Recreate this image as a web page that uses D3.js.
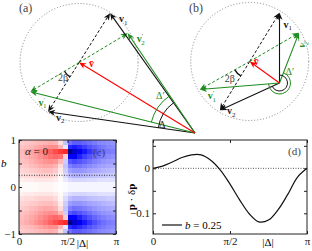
<!DOCTYPE html>
<html>
<head>
<meta charset="utf-8">
<script src="https://cdn.jsdelivr.net/npm/d3@7"></script>
<style>
  body { margin: 0; background: #fff; }
  svg { display: block; font-family: "Liberation Serif", "DejaVu Serif", serif; }
</style>
</head>
<body>
<svg id="fig" width="312" height="251"></svg>
<script>
// vectors v1, v2, v1', v2' in units of the circle radius (y up), origin at 0
const vecNamesA = ['v1', 'v2', 'v1p', 'v2p'];
const vecsA = [[-1.44, 2.03], [-2.49, 0.36], [-2.79, 0.70], [-1.14, 1.69]];
const vecsB = [[0, 1.19], [-1.01, -0.46], [-1.35, -0.11], [0.33, 0.85]];

// heat map (c): columns are |Delta|/pi, rows are b (top to bottom)
const heatDelta = d3.range(20).map(i => (i + 0.5) / 20);
const heatB = [0.95, 0.85, 0.75, 0.65, 0.55, 0.45, 0.35, 0.25, 0.15, 0.05,
  -0.05, -0.15, -0.25, -0.35, -0.45, -0.55, -0.65, -0.75, -0.85, -0.95];
const heatValues = [
  [.10, .11, .12, .13, .14, .15, .16, .15, .06, -.12, -.28, -.32, -.32, -.30, -.28, -.26, -.24, -.23, -.22, -.21],
  [.12, .13, .14, .16, .18, .20, .22, .22, .15, -.05, -.42, -.45, -.42, -.38, -.34, -.31, -.28, -.26, -.24, -.23],
  [.14, .16, .18, .21, .24, .27, .31, .35, .39, .42, -.85, -.66, -.54, -.46, -.40, -.35, -.31, -.28, -.26, -.25],
  [.13, .15, .17, .19, .22, .25, .28, .30, .28, .10, -.52, -.50, -.44, -.38, -.34, -.30, -.27, -.25, -.23, -.22],
  [.12, .13, .15, .17, .19, .21, .22, .21, .14, -.10, -.33, -.36, -.34, -.31, -.28, -.25, -.23, -.21, -.20, -.19],
  [.10, .11, .13, .14, .16, .17, .17, .15, .07, -.12, -.25, -.28, -.27, -.25, -.23, -.21, -.19, -.18, -.17, -.16],
  [.08, .09, .10, .11, .12, .13, .13, .11, .04, -.10, -.19, -.21, -.21, -.20, -.18, -.17, -.16, -.15, -.14, -.13],
  [.06, .07, .07, .08, .09, .09, .09, .07, .02, -.07, -.13, -.15, -.15, -.14, -.13, -.12, -.11, -.11, -.10, -.10],
  [.03, .04, .04, .05, .05, .05, .05, .04, .01, -.04, -.07, -.08, -.08, -.08, -.07, -.07, -.06, -.06, -.06, -.06],
  [.01, .01, .01, .01, .02, .02, .02, .01, .00, -.01, -.02, -.02, -.02, -.02, -.02, -.02, -.02, -.02, -.02, -.02],
  [.01, .01, .01, .01, .02, .02, .02, .01, .00, -.01, -.02, -.02, -.02, -.02, -.02, -.02, -.02, -.02, -.02, -.02],
  [.03, .04, .04, .05, .05, .05, .05, .04, .01, -.04, -.07, -.08, -.08, -.08, -.07, -.07, -.06, -.06, -.06, -.06],
  [.06, .07, .07, .08, .09, .09, .09, .07, .02, -.07, -.13, -.15, -.15, -.14, -.13, -.12, -.11, -.11, -.10, -.10],
  [.08, .09, .10, .11, .12, .13, .13, .11, .04, -.10, -.19, -.21, -.21, -.20, -.18, -.17, -.16, -.15, -.14, -.13],
  [.10, .11, .13, .14, .16, .17, .17, .15, .07, -.12, -.25, -.28, -.27, -.25, -.23, -.21, -.19, -.18, -.17, -.16],
  [.12, .13, .15, .17, .19, .21, .22, .21, .14, -.10, -.33, -.36, -.34, -.31, -.28, -.25, -.23, -.21, -.20, -.19],
  [.13, .15, .17, .19, .22, .25, .28, .30, .28, .10, -.52, -.50, -.44, -.38, -.34, -.30, -.27, -.25, -.23, -.22],
  [.14, .16, .18, .21, .24, .27, .31, .35, .39, .42, -.85, -.66, -.54, -.46, -.40, -.35, -.31, -.28, -.26, -.25],
  [.12, .13, .14, .16, .18, .20, .22, .22, .15, -.05, -.42, -.45, -.42, -.38, -.34, -.31, -.28, -.26, -.24, -.23],
  [.10, .11, .12, .13, .14, .15, .16, .15, .06, -.12, -.28, -.32, -.32, -.30, -.28, -.26, -.24, -.23, -.22, -.21]
];
const bCut = 0.25;

// curve (d): p . dp against |Delta| (as a fraction of pi), b = 0.25
const curveDelta = [0, 0.0625, 0.125, 0.1875, 0.25, 0.3125, 0.375, 0.4375, 0.5,
  0.5625, 0.625, 0.6875, 0.75, 0.8125, 0.875, 0.9375, 1];
const curvePdp = [0, 0.005, 0.014, 0.024, 0.030, 0.030, 0.018, -0.004, -0.035,
  -0.070, -0.101, -0.119, -0.115, -0.092, -0.058, -0.020, 0];

const piTicks = [0, Math.PI / 2, Math.PI];
const piLabels = ['0', 'π/2', 'π'];

const svg = d3.select('#fig');
const defs = svg.append('defs');
const col = { k: '#111', g: '#1e8c1e', r: '#ff0000' };
const R = 59;

Object.entries(col).forEach(([k, c]) => {
  defs.append('marker')
    .attr('id', 'ah-' + k)
    .attr('viewBox', '-8 -4 9 8')
    .attr('refX', 0).attr('refY', 0)
    .attr('markerWidth', 9).attr('markerHeight', 8)
    .attr('markerUnits', 'userSpaceOnUse')
    .attr('orient', 'auto')
    .append('path').attr('d', 'M0,0L-7,-3L-5,0L-7,3Z').attr('fill', c);
});

function arcPath(cx, cy, r, a, b) {
  const lo = Math.min(a, b), hi = Math.max(a, b);
  const p = d3.path();
  p.arc(cx, cy, r, -lo, -hi, true);
  return p.toString();
}

function vecLabel(g, x, y, color, sub, prime, bar) {
  const t = g.append('text').attr('x', x).attr('y', y).attr('fill', color).attr('font-size', 10);
  t.append('tspan').attr('font-weight', 'bold').text(bar ? 'v\u0304' : 'v');
  if (prime) t.append('tspan').attr('font-size', 7).attr('dy', -4).text('′');
  if (sub) t.append('tspan').attr('font-size', 7).attr('dx', prime ? -2 : 0).attr('dy', prime ? 6.5 : 2.5).text(sub);
  return t;
}

function vectorPanel(vecs, origin, o) {
  const x = d3.scaleLinear().domain([0, 1]).range([origin[0], origin[0] + R]);
  const y = d3.scaleLinear().domain([0, 1]).range([origin[1], origin[1] - R]);
  const [v1, v2, v1p, v2p] = vecs;
  const vb = [(v1[0] + v2[0]) / 2, (v1[1] + v2[1]) / 2];
  const g = svg.append('g');

  g.append('circle')
    .attr('cx', x(vb[0])).attr('cy', y(vb[1])).attr('r', R)
    .attr('fill', 'none').attr('stroke', '#777').attr('stroke-width', 0.9)
    .attr('stroke-dasharray', '1,2');

  const arrow = (from, to, c, dashed) => {
    const x0 = x(from[0]), y0 = y(from[1]), x1 = x(to[0]), y1 = y(to[1]);
    const L = Math.hypot(x1 - x0, y1 - y0);
    const s = (L - 3) / L;
    g.append('line')
      .attr('x1', x0).attr('y1', y0)
      .attr('x2', x0 + (x1 - x0) * s).attr('y2', y0 + (y1 - y0) * s)
      .attr('stroke', col[c]).attr('stroke-width', dashed ? 1 : 1.1)
      .attr('stroke-dasharray', dashed ? '3,2' : null);
    g.append('line')
      .attr('x1', x0 + (x1 - x0) * s).attr('y1', y0 + (y1 - y0) * s)
      .attr('x2', x1).attr('y2', y1)
      .attr('stroke', 'none')
      .attr('marker-end', `url(#ah-${c})`);
  };

  arrow(vb, v1, 'k', true);
  arrow(vb, v2, 'k', true);
  arrow(vb, v1p, 'g', true);
  arrow(vb, v2p, 'g', true);
  arrow([0, 0], v1, 'k');
  arrow([0, 0], v2, 'k');
  arrow([0, 0], v1p, 'g');
  arrow([0, 0], v2p, 'g');
  arrow([0, 0], vb, 'r');

  const ang = v => Math.atan2(v[1], v[0]);
  const rel = v => [v[0] - vb[0], v[1] - vb[1]];
  g.append('path')
    .attr('d', arcPath(x(0), y(0), o.rk, ang(v1), ang(v2)))
    .attr('fill', 'none').attr('stroke', col.k).attr('stroke-width', 1);
  g.append('path')
    .attr('d', arcPath(x(0), y(0), o.rg, ang(v1p), ang(v2p)))
    .attr('fill', 'none').attr('stroke', col.g).attr('stroke-width', 1);
  g.append('path')
    .attr('d', arcPath(x(vb[0]), y(vb[1]), 17, ang(rel(v2)), ang(rel(v1p))))
    .attr('fill', 'none').attr('stroke', col.k).attr('stroke-width', 1.4);

  // labels
  vecLabel(g, x(v1[0]) + o.l1[0], y(v1[1]) + o.l1[1], '#222', '1');
  vecLabel(g, x(v2[0]) + o.l2[0], y(v2[1]) + o.l2[1], '#222', '2');
  vecLabel(g, x(v1p[0]) + o.l1p[0], y(v1p[1]) + o.l1p[1], col.g, '1', true);
  const l2p = vecLabel(g, x(v2p[0]) + o.l2p[0], y(v2p[1]) + o.l2p[1], col.g, '2', true);
  if (o.rot2p) l2p.attr('transform', `rotate(${o.rot2p},${x(v2p[0]) + o.l2p[0]},${y(v2p[1]) + o.l2p[1]})`);
  vecLabel(g, x(vb[0]) + o.lb[0], y(vb[1]) + o.lb[1], col.r, null, false, true);

  g.append('text')
    .attr('x', x(vb[0]) + o.beta[0]).attr('y', y(vb[1]) + o.beta[1])
    .attr('font-size', 10).attr('fill', '#444').text('2β');
  g.append('text')
    .attr('x', x(0) + o.dg[0]).attr('y', y(0) + o.dg[1])
    .attr('font-size', 10).attr('fill', col.g).text('Δ′');
  if (o.dk) {
    g.append('text')
      .attr('x', x(0) + o.dk[0]).attr('y', y(0) + o.dk[1])
      .attr('font-size', 10).attr('fill', '#222').text('Δ');
  }
  g.append('text').attr('x', o.tag[0]).attr('y', o.tag[1])
    .attr('font-size', 12).attr('fill', '#444').text(o.tagText);
}

vectorPanel(vecsA, [195, 133], {
  rk: 37, rg: 45,
  l1: [9, 9], l2: [8, 9], l1p: [8, 14], l2p: [9, 9], lb: [10, 5],
  beta: [-21, 19], dg: [-39, -34], dk: [-36, -5],
  tag: [19, 12], tagText: '(a)'
});
vectorPanel(vecsB, [279.5, 83], {
  rk: 8, rg: 11,
  l1: [4, 15], l2: [7, 4], l1p: [8, 10], l2p: [5, 16], rot2p: -70, lb: [4, 4],
  beta: [-25, 21], dg: [6, -8], dk: null,
  tag: [189, 12], tagText: '(b)'
});

// ---------- panel (c): heat map ----------
const cX = d3.scaleLinear().domain([0, Math.PI]).range([19, 116]);
const cY = d3.scaleLinear().domain([-1, 1]).range([234, 140]);
const colBand = d3.scaleBand().domain(d3.range(heatDelta.length)).range([19, 116]);
const rowBand = d3.scaleBand().domain(d3.range(heatB.length)).range([140, 234]);
const heatColor = d3.scaleLinear()
  .domain([-1, -0.5, 0, 0.5, 1])
  .range(['#00004c', '#0000ff', '#ffffff', '#ff0000', '#800000'])
  .clamp(true);

const gc = svg.append('g');
heatValues.forEach((row, ri) => {
  gc.selectAll(null).data(row).join('rect')
    .attr('x', (d, ci) => colBand(ci))
    .attr('y', rowBand(ri))
    .attr('width', colBand.bandwidth() + 0.4)
    .attr('height', rowBand.bandwidth() + 0.4)
    .attr('fill', d => heatColor(d))
    .attr('shape-rendering', 'crispEdges');
});

gc.append('line')
  .attr('x1', cX(0)).attr('x2', cX(Math.PI))
  .attr('y1', cY(bCut)).attr('y2', cY(bCut))
  .attr('stroke', '#222').attr('stroke-width', 0.9).attr('stroke-dasharray', '1,1.5');

function frame(g, x, y, yTicks, yFmt, xTicks, xFmt) {
  const r = x.range(), d = y.range();
  const axes = [
    [d3.axisBottom(x).tickValues(xTicks).tickFormat(xFmt), `translate(0,${d[0]})`],
    [d3.axisTop(x).tickValues(xTicks).tickFormat(''), `translate(0,${d[1]})`],
    [d3.axisLeft(y).tickValues(yTicks).tickFormat(yFmt), `translate(${r[0]},0)`],
    [d3.axisRight(y).tickValues(yTicks).tickFormat(''), `translate(${r[1]},0)`]
  ];
  axes.forEach(([ax, tr]) => {
    const a = g.append('g').attr('transform', tr)
      .call(ax.tickSize(-3).tickPadding(3));
    a.select('.domain').remove();
    a.selectAll('line').attr('stroke', '#222');
    a.selectAll('text').attr('font-size', 11).attr('fill', '#222')
      .attr('font-family', '"Liberation Serif", serif');
  });
  g.append('rect')
    .attr('x', r[0]).attr('y', d[1])
    .attr('width', r[1] - r[0]).attr('height', d[0] - d[1])
    .attr('fill', 'none').attr('stroke', '#222').attr('stroke-width', 1);
}

frame(gc, cX, cY, [-1, -0.5, 0, 0.5, 1],
  v => (v === 1 ? '1' : v === 0 ? '0' : v === -1 ? '−1' : ''),
  piTicks, (v, i) => piLabels[i]);

gc.append('text').attr('x', 25).attr('y', 155).attr('font-size', 11).attr('fill', '#222')
  .html('<tspan font-style="italic">α</tspan> = 0');
gc.append('text').attr('x', 93).attr('y', 156).attr('font-size', 11).attr('fill', '#444').text('(c)');
gc.append('text').attr('x', 1).attr('y', 167).attr('font-size', 11).attr('font-style', 'italic').text('b');
gc.append('text').attr('x', 82.5).attr('y', 247).attr('text-anchor', 'middle').attr('font-size', 11).text('|Δ|');

// ---------- panel (d): p . dp ----------
const dX = d3.scaleLinear().domain([0, Math.PI]).range([153, 307]);
const dY = d3.scaleLinear().domain([-0.146, 0.063]).range([234, 140]);
const gd = svg.append('g');

gd.append('line')
  .attr('x1', dX(0)).attr('x2', dX(Math.PI))
  .attr('y1', dY(0)).attr('y2', dY(0))
  .attr('stroke', '#444').attr('stroke-width', 0.9).attr('stroke-dasharray', '1,1.5');

gd.append('path')
  .datum(curveDelta.map((f, i) => [f * Math.PI, curvePdp[i]]))
  .attr('d', d3.line().x(d => dX(d[0])).y(d => dY(d[1])).curve(d3.curveCatmullRom))
  .attr('fill', 'none').attr('stroke', '#111').attr('stroke-width', 1.2);

frame(gd, dX, dY, [-0.1, -0.05, 0, 0.05],
  v => (v === 0 ? '0' : v === -0.1 ? '−0.1' : ''),
  piTicks, (v, i) => piLabels[i]);

gd.append('text').attr('x', 288).attr('y', 155).attr('font-size', 11).attr('fill', '#444').text('(d)');
gd.append('text').attr('x', 268).attr('y', 246).attr('text-anchor', 'middle').attr('font-size', 11).text('|Δ|');
gd.append('line').attr('x1', 162).attr('x2', 182).attr('y1', 225).attr('y2', 225)
  .attr('stroke', '#111').attr('stroke-width', 1.2);
gd.append('text').attr('x', 185).attr('y', 229).attr('font-size', 11)
  .html('<tspan font-style="italic">b</tspan> = 0.25');
gd.append('text')
  .attr('transform', 'translate(135,197) rotate(-90)')
  .attr('text-anchor', 'middle').attr('font-size', 11)
  .html('<tspan font-weight="bold">p</tspan> · δ<tspan font-weight="bold">p</tspan>');
</script>
</body>
</html>
